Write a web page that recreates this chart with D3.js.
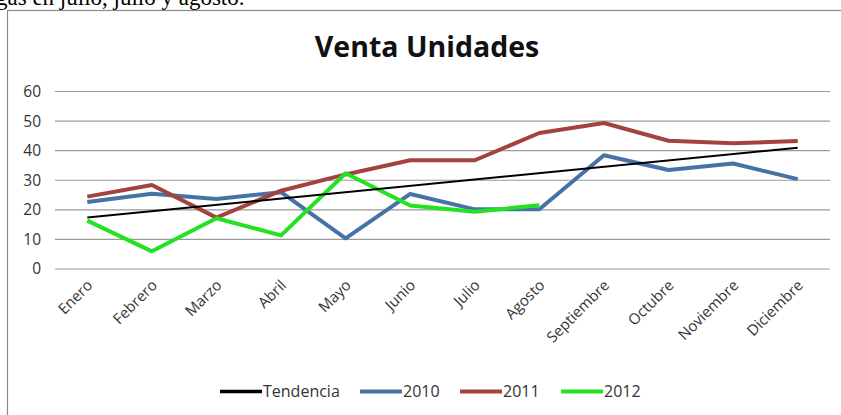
<!DOCTYPE html>
<html>
<head>
<meta charset="utf-8">
<script src="https://cdn.jsdelivr.net/npm/d3@7/dist/d3.min.js"></script>
<style>
  html, body { margin: 0; padding: 0; background: #fff; }
  svg { display: block; }
</style>
</head>
<body>
<svg id="chart" width="841" height="415"></svg>
<script>
const meses = ["Enero","Febrero","Marzo","Abril","Mayo","Junio","Julio","Agosto","Septiembre","Octubre","Noviembre","Diciembre"];
const ventas2010 = [22.5, 25.3, 23.5, 25.8, 10.2, 25.2, 20, 20, 38.3, 33.3, 35.5, 30.2];
const ventas2011 = [24.3, 28.2, 17.2, 26.3, 31.8, 36.6, 36.6, 45.8, 49.2, 43.2, 42.3, 43.1];
const ventas2012 = [16.2, 5.8, 17, 11.2, 32.2, 21.3, 19.2, 21.4, null, null, null, null];
const tendencia = [{mes: "Enero", v: 17.2}, {mes: "Diciembre", v: 40.8}];
const yTicks = [0, 10, 20, 30, 40, 50, 60];
const tituloTexto = "Venta Unidades";
const textoSuperior = "gas en julio, julio y agosto.";

const svg = d3.select("#chart");

// text above the chart (partly clipped in the original, too)
svg.append("text").attr("x", -4).attr("y", 5)
  .attr("font-family", "'Liberation Serif', 'Times New Roman', serif")
  .attr("font-size", 23).attr("fill", "#000").text(textoSuperior);

// chart frame
svg.append("rect").attr("x", 7.5).attr("y", 10.5).attr("width", 845).attr("height", 420)
  .attr("fill", "#fff").attr("stroke", "#8a8a8a").attr("stroke-width", 1.2);

const x = d3.scalePoint().domain(meses).range([55, 830]).padding(0.5);
const y = d3.scaleLinear().domain([0, 60]).range([268.5, 91]);

// title
svg.append("text").attr("x", 427).attr("y", 57).attr("text-anchor", "middle")
  .attr("font-family", "'Open Sans', sans-serif").attr("font-weight", "bold")
  .attr("font-size", 28.5).attr("fill", "#111").text(tituloTexto);

// gridlines
const gridAxis = d3.axisLeft(y).tickValues(yTicks).tickSize(-(830 - 55)).tickFormat("");
const g = svg.append("g").attr("transform", "translate(55,0)").call(gridAxis);
g.select(".domain").remove();
g.selectAll(".tick line").attr("stroke", "#9a9a9a").attr("stroke-width", 1.2);

// y labels
const yAx = svg.append("g").attr("transform", "translate(41,0)")
  .call(d3.axisLeft(y).tickValues(yTicks).tickSize(0).tickPadding(0));
yAx.select(".domain").remove();
yAx.selectAll("text").attr("font-family", "'Open Sans', sans-serif").attr("font-size", 15.5)
  .attr("fill", "#333").attr("dy", "0.35em");

// x labels
const xAx = svg.append("g").attr("transform", "translate(0,268.5)")
  .call(d3.axisBottom(x).tickSize(0).tickPadding(0));
xAx.select(".domain").remove();
xAx.selectAll("text")
  .attr("font-family", "'Open Sans', sans-serif").attr("font-size", 15).attr("fill", "#333")
  .attr("text-anchor", "end")
  .attr("transform", "translate(2,14) rotate(-45)")
  .attr("dy", "0.35em").attr("y", 0);

// lines
const line = d3.line().defined(d => d.v != null).x(d => x(d.mes)).y(d => y(d.v));
const series = [
  {name: "2010", color: "#4673A6", width: 4, data: ventas2010},
  {name: "2011", color: "#A4423F", width: 4, data: ventas2011},
  {name: "2012", color: "#22E222", width: 4, data: ventas2012}
];
series.forEach(s => {
  svg.append("path")
    .datum(meses.map((m, i) => ({mes: m, v: s.data[i]})))
    .attr("fill", "none").attr("stroke", s.color).attr("stroke-width", s.width)
    .attr("stroke-linejoin", "round").attr("d", line);
});
svg.append("path").datum(tendencia).attr("fill", "none").attr("stroke", "#000")
  .attr("stroke-width", 2).attr("d", line);

// legend
const legend = [
  {name: "Tendencia", color: "#000", width: 3.5, x: 220},
  {name: "2010", color: "#4673A6", width: 4, x: 360},
  {name: "2011", color: "#A4423F", width: 4, x: 460},
  {name: "2012", color: "#22E222", width: 4, x: 561}
];
legend.forEach(l => {
  svg.append("line").attr("x1", l.x).attr("x2", l.x + 42).attr("y1", 391.5).attr("y2", 391.5)
    .attr("stroke", l.color).attr("stroke-width", l.width);
  svg.append("text").attr("x", l.x + 43).attr("y", 397)
    .attr("font-family", "'Open Sans', sans-serif").attr("font-size", 16).attr("fill", "#333")
    .text(l.name);
});
</script>
</body>
</html>
